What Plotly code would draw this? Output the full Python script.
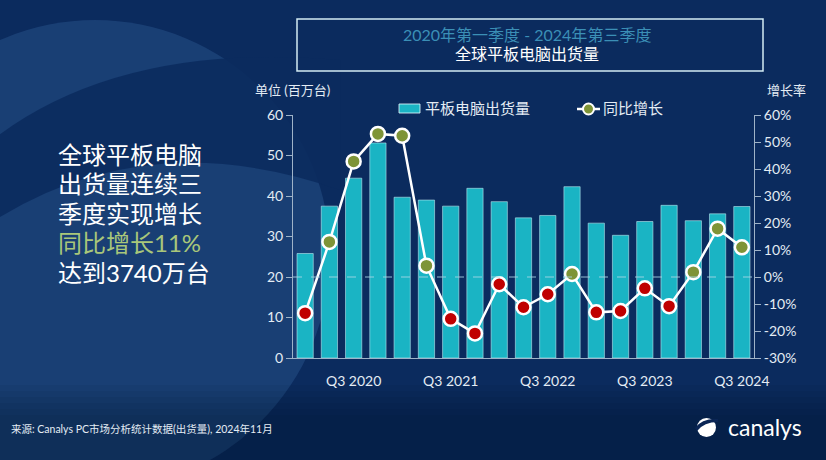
import plotly.graph_objects as go

# ---------------- data ----------------
quarters = ["Q1 2020", "Q2 2020", "Q3 2020", "Q4 2020",
            "Q1 2021", "Q2 2021", "Q3 2021", "Q4 2021",
            "Q1 2022", "Q2 2022", "Q3 2022", "Q4 2022",
            "Q1 2023", "Q2 2023", "Q3 2023", "Q4 2023",
            "Q1 2024", "Q2 2024", "Q3 2024"]
shipments = [25.8, 37.5, 44.4, 53.1,
             39.7, 39.0, 37.5, 41.9,
             38.6, 34.6, 35.2, 42.3,
             33.3, 30.3, 33.7, 37.7,
             33.9, 35.6, 37.4]
yoy_growth = [-13.4, 13.0, 42.8, 53.0,
              52.3, 4.2, -15.5, -20.9,
              -2.7, -11.2, -6.4, 1.1,
              -13.1, -12.6, -4.2, -10.8,
              1.8, 17.9, 11.0]
x_tick_vals = ["Q3 2020", "Q3 2021", "Q3 2022", "Q3 2023", "Q3 2024"]
left_ticks = [0, 10, 20, 30, 40, 50, 60]
right_ticks = [-30, -20, -10, 0, 10, 20, 30, 40, 50, 60]
right_tick_text = ["-30%", "-20%", "-10%", "0%", "10%", "20%", "30%", "40%", "50%", "60%"]

# ---------------- layout helpers (pixel -> paper) ----------------
W, H = 826, 460
PX0, PX1, PY0, PY1 = 293, 754, 115, 358


def px(x):
    return (x - PX0) / (PX1 - PX0)


def py(y):
    return (PY1 - y) / (PY1 - PY0)


FONT = "Lato, 'Noto Sans CJK SC', sans-serif"
BG = "#0b2b5e"
TEAL = "#1ab4c4"
AXIS_C = "#9fb3c8"
TXT = "#e4ecf4"

marker_colors = ["#7e9437" if v >= 0 else "#c00000" for v in yoy_growth]

fig = go.Figure()
fig.add_trace(go.Bar(
    x=quarters, y=shipments, yaxis="y",
    marker=dict(color=TEAL, line=dict(color="rgba(200,240,245,0.55)", width=1)),
    showlegend=False, hoverinfo="skip"))
fig.add_trace(go.Scatter(
    x=quarters, y=yoy_growth, yaxis="y2", mode="lines+markers",
    line=dict(color="white", width=2.5),
    marker=dict(size=14, color=marker_colors, line=dict(color="white", width=2.5)),
    showlegend=False, hoverinfo="skip"))

shapes = []


def path_px(pts, close=True):
    s = ""
    for cmd, coords in pts:
        s += cmd + " " + " ".join(f"{px(a):.4f},{py(b):.4f}" for a, b in coords) + " "
    if close:
        s += "Z"
    return s


# big lighter circle motif on the left
shapes.append(dict(type="circle", xref="paper", yref="paper",
                   x0=px(-140), x1=px(330), y0=py(20), y1=py(490),
                   fillcolor="rgba(60,110,170,0.30)", line=dict(width=0), layer="below"))
# dark swoosh band cutting the circle
shapes.append(dict(type="path", xref="paper", yref="paper",
                   path=path_px([("M", [(-20, 150)]),
                                 ("Q", [(110, 40), (340, 60)]),
                                 ("L", [(340, 190)]),
                                 ("Q", [(140, 120), (-20, 230)])]),
                   fillcolor=BG, line=dict(width=0), layer="below", opacity=0.9))
# softly darker bottom band
for k in range(6):
    shapes.append(dict(type="rect", xref="paper", yref="paper",
                       x0=px(0), x1=px(W), y0=py(385 + k * 6), y1=py(H),
                       fillcolor="rgba(0,12,40,0.06)", line=dict(width=0), layer="below"))
# title box
shapes.append(dict(type="rect", xref="paper", yref="paper",
                   x0=px(297), x1=px(763), y0=py(19), y1=py(71),
                   line=dict(color="#d4ecf4", width=1.5), fillcolor="rgba(0,0,0,0)"))
# zero growth dashed line
shapes.append(dict(type="line", xref="paper", yref="y2", x0=0, x1=1, y0=0, y1=0,
                   line=dict(color="rgba(170,215,230,0.85)", width=1, dash="dash"),
                   layer="above"))
# legend icons
shapes.append(dict(type="rect", xref="paper", yref="paper",
                   x0=px(399), x1=px(420), y0=py(104), y1=py(113),
                   fillcolor=TEAL, line=dict(color="rgba(220,245,250,0.85)", width=1)))
shapes.append(dict(type="line", xref="paper", yref="paper",
                   x0=px(577), x1=px(600), y0=py(109), y1=py(109),
                   line=dict(color="white", width=2.5)))
shapes.append(dict(type="circle", xref="paper", yref="paper",
                   x0=px(583), x1=px(594), y0=py(103.5), y1=py(114.5),
                   fillcolor="#7e9437", line=dict(color="white", width=2)))
# canalys logo icon
shapes.append(dict(type="circle", xref="paper", yref="paper",
                   x0=px(697), x1=px(716), y0=py(418), y1=py(437),
                   fillcolor="white", line=dict(width=0)))
shapes.append(dict(type="path", xref="paper", yref="paper",
                   path=path_px([("M", [(695, 428)]),
                                 ("Q", [(702, 418), (718, 419)]),
                                 ("L", [(718, 422)]),
                                 ("Q", [(704, 422), (697, 431)])]),
                   fillcolor="#0a2555", line=dict(width=0)))

ann = []


def add_text(text, x, y, size, color=TXT, xanchor="left"):
    ann.append(dict(text=text, xref="paper", yref="paper", x=px(x), y=py(y),
                    xanchor=xanchor, yanchor="middle", showarrow=False,
                    font=dict(family=FONT, size=size, color=color)))


add_text("2020年第一季度 - 2024年第三季度", 527, 35, 16, color="#3b8fb6", xanchor="center")
add_text("全球平板电脑出货量", 527, 54, 16, color="white", xanchor="center")
add_text("单位 (百万台)", 253, 90, 13)
add_text("增长率", 786, 90, 13, xanchor="center")
add_text("平板电脑出货量", 423, 108, 15)
add_text("同比增长", 601, 108, 15)

left_lines = [("全球平板电脑", "white"), ("出货量连续三", "white"),
              ("季度实现增长", "white"), ("同比增长11%", "#a9c77a"),
              ("达到3740万台", "white")]
for i, (t, c) in enumerate(left_lines):
    add_text(t, 56, 154 + i * 29.6, 24, color=c)

add_text("来源: Canalys PC市场分析统计数据(出货量), 2024年11月", 9, 429, 10.5)
add_text("canalys", 726, 427, 23, color="white")

fig.update_layout(
    width=W, height=H,
    margin=dict(l=PX0, r=W - PX1, t=PY0, b=H - PY1, pad=0),
    paper_bgcolor=BG, plot_bgcolor="rgba(0,0,0,0)",
    bargap=0.33,
    font=dict(family=FONT, color=TXT),
    xaxis=dict(type="category", tickvals=x_tick_vals, ticktext=x_tick_vals,
               showline=True, linecolor=AXIS_C, linewidth=1, ticks="",
               showgrid=False, tickfont=dict(size=14, color=TXT),
               ticklabelstandoff=10, range=[-0.5, len(quarters) - 0.5]),
    yaxis=dict(range=[0, 60], tickvals=left_ticks, showline=True, linecolor=AXIS_C,
               linewidth=1, ticks="outside", ticklen=6, tickcolor=AXIS_C,
               showgrid=False, zeroline=False, tickfont=dict(size=14, color=TXT)),
    yaxis2=dict(range=[-30, 60], overlaying="y", side="right",
                tickvals=right_ticks, ticktext=right_tick_text,
                showline=True, linecolor=AXIS_C, linewidth=1, ticks="outside",
                ticklen=6, tickcolor=AXIS_C, showgrid=False, zeroline=False,
                tickfont=dict(size=14, color=TXT)),
    shapes=shapes, annotations=ann, showlegend=False,
)

fig.write_html("out.html", config={"displayModeBar": False},
               post_script="document.body.style.margin='0';document.body.style.overflow='hidden';")
